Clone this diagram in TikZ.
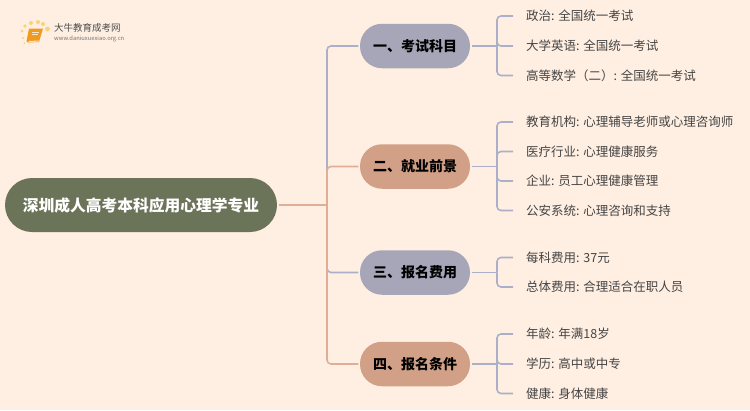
\documentclass[tikz,border=0pt]{standalone}
\usepackage{fontspec}
\setmainfont{Noto Sans CJK SC}
\definecolor{bgc}{HTML}{FFEFE2}
\definecolor{rootc}{HTML}{6B7358}
\definecolor{greyc}{HTML}{A6A6B8}
\definecolor{tanc}{HTML}{D2A086}
\definecolor{linea}{HTML}{ABB0C8}
\definecolor{lineb}{HTML}{DFAE94}
\definecolor{leaftext}{HTML}{444444}
\definecolor{bookc}{HTML}{F09A20}
\definecolor{dotc}{HTML}{FBD27A}
\tikzset{
  x=1pt,y=-1pt,
  rootnode/.style={fill=rootc,draw=none,rounded corners=27pt,minimum width=272pt,minimum height=54pt,inner sep=0pt,text=white,font=\fontsize{15.75}{18}\selectfont\bfseries},
  branchnode/.style={draw=none,rounded corners=22pt,minimum width=110pt,minimum height=44.5pt,inner sep=0pt,text=black,font=\fontsize{14}{17}\selectfont\bfseries},
  leafnode/.style={anchor=west,inner sep=0pt,text=leaftext,text height=12pt,text depth=3pt,font=\fontsize{12.5}{15}\selectfont},
  conn/.style={line width=1.6pt,rounded corners=4pt},
  toleaf/.style={conn,linea,shorten >=13pt},
}
\begin{document}
\begin{tikzpicture}
\useasboundingbox (0,0) rectangle (750,410);
\fill[bgc] (0,0) rectangle (750,410);
% logo
\foreach \px/\py/\pr in {25/26/1.8,31/23/2,38/22/2,43/24/2,47.5/29/2.4,22/31/1.5,23/38/1.2,24.5/43/1}
  \fill[dotc] (\px,\py) circle (\pr);
\fill[bookc] (29,28.5) -- (43,28.5) -- (39,42) -- (28,42.5) -- (26.5,41) -- cycle;
\fill[white!70!bookc] (28.5,41) -- (39,40.5) -- (38.6,41.6) -- (28.5,42) -- cycle;
\draw[white!75!bookc,line width=.6pt] (32,32) -- (39,32) (31.5,34.5) -- (38,34.5);
\node[anchor=west,inner sep=0pt,text=black!70] (logotext) at (54,27.5) {\fontsize{9.5}{11}\selectfont 大牛教育成考网};
\node[anchor=west,inner sep=0pt,text=black!55] (logourl) at (54,39) {\fontsize{5.8}{8}\selectfont www.daniuxuexiao.org.cn};
% nodes
\node[rootnode] (root) at (141,205) {深圳成人高考本科应用心理学专业};
\node[branchnode,fill=greyc] (b1) at (415,46) {一、考试科目};
\node[branchnode,fill=tanc] (b2) at (415,166.5) {二、就业前景};
\node[branchnode,fill=greyc] (b3) at (415,272.5) {三、报名费用};
\node[branchnode,fill=tanc] (b4) at (415,364) {四、报名条件};
\node[leafnode] (a1) at (526,16) {政治: 全国统一考试};
\node[leafnode] (a2) at (526,46) {大学英语: 全国统一考试};
\node[leafnode] (a3) at (526,75.5) {高等数学（二）: 全国统一考试};
\node[leafnode] (c1) at (526,122) {教育机构: 心理辅导老师或心理咨询师};
\node[leafnode] (c2) at (526,151.5) {医疗行业: 心理健康服务};
\node[leafnode] (c3) at (526,181) {企业: 员工心理健康管理};
\node[leafnode] (c4) at (526,210.5) {公安系统: 心理咨询和支持};
\node[leafnode] (d1) at (526,257.5) {每科费用: 37元};
\node[leafnode] (d2) at (526,287) {总体费用: 合理适合在职人员};
\node[leafnode] (e1) at (526,334) {年龄: 年满18岁};
\node[leafnode] (e2) at (526,364) {学历: 高中或中专};
\node[leafnode] (e3) at (526,393.5) {健康: 身体健康};
% junctions
\coordinate (trunk) at (327,205);
\coordinate (s1) at (497,46);
\coordinate (s2) at (497,166.5);
\coordinate (s3) at (497,272.5);
\coordinate (s4) at (497,364);
% trunk connectors
\draw[conn,linea,shorten >=1.5pt] (trunk) -- (trunk |- b1) -- (b1.west);
\draw[conn,lineb,shorten >=1.5pt] (trunk) -- (trunk |- b2) -- (b2.west);
\draw[conn,linea,shorten >=1.5pt] (trunk) -- (trunk |- b3) -- (b3.west);
\draw[conn,lineb,shorten >=1.5pt] (trunk) -- (trunk |- b4) -- (b4.west);
\draw[conn,lineb,shorten <=1.5pt] (root.east) -- (trunk);
% branch stems
\foreach \bn/\sn in {b1/s1,b2/s2,b3/s3,b4/s4}
  \draw[conn,linea,shorten <=1.5pt] (\bn.east) -- (\sn);
% leaf connectors
\foreach \sn/\ln in {s1/a1,s1/a2,s1/a3,s2/c1,s2/c2,s2/c3,s2/c4,s3/d1,s3/d2,s4/e1,s4/e2,s4/e3}
  \draw[toleaf] (\sn) -- (\sn |- \ln.west) -- (\ln.west);
\end{tikzpicture}
\end{document}
